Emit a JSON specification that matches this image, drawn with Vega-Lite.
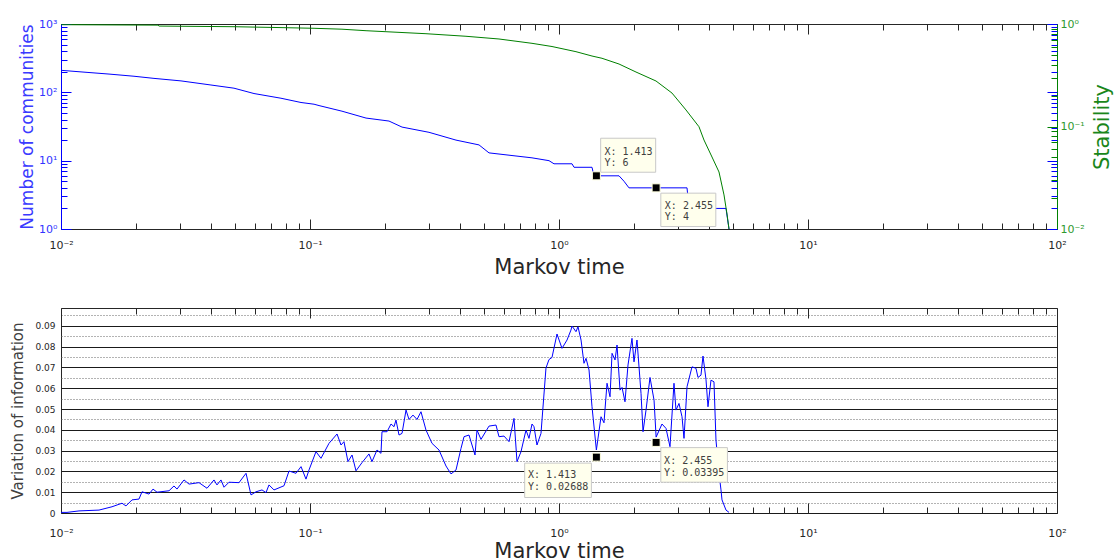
{
  "$schema": "https://vega.github.io/schema/vega-lite/v6.json",
  "padding": {"left": 10, "top": 17, "right": 5, "bottom": 0},
  "background": "white",
  "bounds": "flush",
  "spacing": 79,
  "resolve": {"scale": {"shape": "independent"}},
  "datasets": {
    "comm": [
      {"t":0.01,"n":210},{"t":0.01272,"n":196},{"t":0.01559,"n":185},{"t":0.01964,"n":172},{"t":0.02363,"n":160},{"t":0.03033,"n":147},{"t":0.04002,"n":128},{"t":0.04951,"n":115},{"t":0.05958,"n":96},{"t":0.07645,"n":82},{"t":0.09202,"n":71},{"t":0.1038,"n":67},{"t":0.1087,"n":64},{"t":0.1344,"n":53},{"t":0.1679,"n":42},{"t":0.2076,"n":38},{"t":0.2342,"n":31},{"t":0.3005,"n":26},{"t":0.3858,"n":20},{"t":0.4773,"n":17},{"t":0.5235,"n":13},{"t":0.779,"n":11},{"t":0.9118,"n":10},{"t":0.9548,"n":9},{"t":1.128,"n":9},{"t":1.149,"n":8},{"t":1.357,"n":8},{"t":1.382,"n":6},{"t":1.742,"n":6},{"t":1.824,"n":5},{"t":1.91,"n":4},{"t":3.267,"n":4},{"t":3.327,"n":2},{"t":4.685,"n":2},{"t":4.817,"n":1}
    ],
    "stab": [
      {"t":0.01,"s":0.985},{"t":0.02452,"s":0.975},{"t":0.02475,"s":0.955},{"t":0.04951,"s":0.941},{"t":0.07371,"s":0.924},{"t":0.1038,"s":0.908},{"t":0.1344,"s":0.89},{"t":0.1679,"s":0.86},{"t":0.2019,"s":0.841},{"t":0.2923,"s":0.804},{"t":0.4231,"s":0.759},{"t":0.5741,"s":0.714},{"t":0.779,"s":0.648},{"t":0.9374,"s":0.603},{"t":1.17,"s":0.537},{"t":1.357,"s":0.487},{"t":1.488,"s":0.463},{"t":1.742,"s":0.407},{"t":2.038,"s":0.34},{"t":2.452,"s":0.278},{"t":2.843,"s":0.212},{"t":3.236,"s":0.145},{"t":3.649,"s":0.0995},{"t":3.822,"s":0.0738},{"t":4.116,"s":0.0504},{"t":4.391,"s":0.036},{"t":4.599,"s":0.0215},{"t":4.728,"s":0.014},{"t":4.817,"s":0.01}
    ],
    "vi": [
      {"t":0.01,"v":0.0003},{"t":0.01057,"v":0.0003},{"t":0.01181,"v":0.001},{"t":0.01421,"v":0.0014},{"t":0.01603,"v":0.003},{"t":0.01758,"v":0.0047},{"t":0.01824,"v":0.0034},{"t":0.01928,"v":0.0063},{"t":0.02057,"v":0.0067},{"t":0.02115,"v":0.0102},{"t":0.02257,"v":0.0091},{"t":0.02342,"v":0.0115},{"t":0.0243,"v":0.01},{"t":0.02715,"v":0.0107},{"t":0.02843,"v":0.013},{"t":0.02923,"v":0.0115},{"t":0.03119,"v":0.0159},{"t":0.03267,"v":0.0139},{"t":0.03583,"v":0.0146},{"t":0.03858,"v":0.0119},{"t":0.04116,"v":0.0159},{"t":0.04231,"v":0.0135},{"t":0.04391,"v":0.0159},{"t":0.04515,"v":0.0124},{"t":0.04728,"v":0.0148},{"t":0.05187,"v":0.0146},{"t":0.05534,"v":0.0191},{"t":0.05795,"v":0.0087},{"t":0.06069,"v":0.0102},{"t":0.06416,"v":0.0111},{"t":0.06657,"v":0.0098},{"t":0.06844,"v":0.0135},{"t":0.07168,"v":0.0111},{"t":0.07864,"v":0.0131},{"t":0.08236,"v":0.0202},{"t":0.08786,"v":0.0191},{"t":0.09203,"v":0.0223},{"t":0.09636,"v":0.0163},{"t":0.09908,"v":0.0207},{"t":0.1057,"v":0.0295},{"t":0.1107,"v":0.0263},{"t":0.1192,"v":0.0335},{"t":0.1284,"v":0.038},{"t":0.1332,"v":0.0327},{"t":0.1369,"v":0.0343},{"t":0.1421,"v":0.0247},{"t":0.1475,"v":0.0279},{"t":0.153,"v":0.0203},{"t":0.1617,"v":0.0242},{"t":0.1725,"v":0.0284},{"t":0.1774,"v":0.0247},{"t":0.1858,"v":0.0303},{"t":0.1928,"v":0.0287},{"t":0.1946,"v":0.0391},{"t":0.2039,"v":0.0391},{"t":0.2115,"v":0.0428},{"t":0.2175,"v":0.0415},{"t":0.2215,"v":0.0447},{"t":0.2278,"v":0.0375},{"t":0.2342,"v":0.0383},{"t":0.243,"v":0.0495},{"t":0.2498,"v":0.045},{"t":0.2592,"v":0.0471},{"t":0.269,"v":0.045},{"t":0.2791,"v":0.0487},{"t":0.2923,"v":0.0399},{"t":0.309,"v":0.0335},{"t":0.3297,"v":0.0303},{"t":0.3517,"v":0.0226},{"t":0.3684,"v":0.0188},{"t":0.3858,"v":0.0207},{"t":0.4041,"v":0.0311},{"t":0.4155,"v":0.0367},{"t":0.4351,"v":0.0375},{"t":0.46,"v":0.0279},{"t":0.4685,"v":0.0399},{"t":0.4861,"v":0.0354},{"t":0.5235,"v":0.0418},{"t":0.5585,"v":0.0423},{"t":0.5741,"v":0.0367},{"t":0.6014,"v":0.037},{"t":0.6299,"v":0.0343},{"t":0.6596,"v":0.0455},{"t":0.6781,"v":0.0247},{"t":0.7037,"v":0.0295},{"t":0.737,"v":0.0399},{"t":0.7576,"v":0.0359},{"t":0.7792,"v":0.0428},{"t":0.7936,"v":0.0415},{"t":0.8158,"v":0.0327},{"t":0.8466,"v":0.0383},{"t":0.8866,"v":0.0697},{"t":0.9116,"v":0.0738},{"t":0.9372,"v":0.0748},{"t":0.9818,"v":0.0861},{"t":1.028,"v":0.0792},{"t":1.077,"v":0.0832},{"t":1.117,"v":0.088},{"t":1.128,"v":0.0899},{"t":1.17,"v":0.0872},{"t":1.192,"v":0.0896},{"t":1.226,"v":0.0832},{"t":1.26,"v":0.072},{"t":1.284,"v":0.0744},{"t":1.32,"v":0.0688},{"t":1.357,"v":0.0511},{"t":1.413,"v":0.0303},{"t":1.475,"v":0.0463},{"t":1.516,"v":0.0434},{"t":1.559,"v":0.0624},{"t":1.603,"v":0.0559},{"t":1.633,"v":0.0768},{"t":1.679,"v":0.0736},{"t":1.71,"v":0.0808},{"t":1.758,"v":0.0591},{"t":1.791,"v":0.0604},{"t":1.841,"v":0.0535},{"t":1.893,"v":0.0712},{"t":1.964,"v":0.084},{"t":2.001,"v":0.0727},{"t":2.057,"v":0.0832},{"t":2.135,"v":0.0575},{"t":2.175,"v":0.0391},{"t":2.236,"v":0.0495},{"t":2.32,"v":0.0652},{"t":2.408,"v":0.0543},{"t":2.455,"v":0.0365},{"t":2.592,"v":0.0428},{"t":2.69,"v":0.0407},{"t":2.791,"v":0.0319},{"t":2.896,"v":0.0624},{"t":2.95,"v":0.0495},{"t":3.033,"v":0.0527},{"t":3.119,"v":0.0463},{"t":3.177,"v":0.0359},{"t":3.267,"v":0.0607},{"t":3.421,"v":0.0703},{"t":3.549,"v":0.0696},{"t":3.616,"v":0.0652},{"t":3.717,"v":0.0663},{"t":3.787,"v":0.0755},{"t":3.893,"v":0.0643},{"t":3.966,"v":0.0511},{"t":4.077,"v":0.0639},{"t":4.192,"v":0.0631},{"t":4.27,"v":0.0351},{"t":4.391,"v":0.0191},{"t":4.473,"v":0.0111},{"t":4.515,"v":0.0063},{"t":4.685,"v":0.0014},{"t":4.817,"v":0.0003}
    ],
    "tipsTop": [
      {"tip":"a","t":1.413,"y":6,"label":["X: 1.413","Y: 6"]},
      {"tip":"b","t":2.455,"y":4,"label":["X: 2.455","Y: 4"]}
    ],
    "tipsBot": [
      {"tip":"a","t":1.413,"y":0.02688,"label":["X: 1.413","Y: 0.02688"]},
      {"tip":"b","t":2.455,"y":0.03395,"label":["X: 2.455","Y: 0.03395"]}
    ]
  },
  "vconcat": [
    {
      "width": 996,
      "height": 205,
      "resolve": {"scale": {"y": "independent"}, "axis": {"x": "independent", "y": "independent"}},
      "layer": [
        {
          "data": {"name": "comm"},
          "mark": {"type": "line", "color": "#0000ff", "strokeWidth": 1},
          "encoding": {
            "x": {"field": "t", "type": "quantitative", "scale": {"type": "log", "domain": [0.01, 100], "nice": false},
              "axis": {"orient": "bottom", "values": [0.01,0.02,0.03,0.04,0.05,0.06,0.07,0.08,0.09,0.1,0.2,0.3,0.4,0.5,0.6,0.7,0.8,0.9,1,2,3,4,5,6,7,8,9,10,20,30,40,50,60,70,80,90,100],
                "labelExpr": "datum.value === 0.01 ? '10⁻²' : datum.value === 0.1 ? '10⁻¹' : datum.value === 1 ? '10⁰' : datum.value === 10 ? '10¹' : datum.value === 100 ? '10²' : ''",
                "tickSize": {"condition": {"test": "indexof([0.01,0.1,1,10,100], datum.value) >= 0", "value": -10}, "value": -6},
                "tickColor": "#262626", "domain": false, "grid": false, "labelPadding": 20, "labelFontSize": 11, "labelColor": "#262626", "labelFlush": false, "labelOverlap": false,
                "title": "Markov time", "titleFontSize": 21, "titleFontWeight": "normal", "titleColor": "#262626", "titlePadding": 2}},
            "y": {"field": "n", "type": "quantitative", "scale": {"type": "log", "domain": [1, 1000], "nice": false},
              "axis": {"orient": "left", "values": [1,2,3,4,5,6,7,8,9,10,20,30,40,50,60,70,80,90,100,200,300,400,500,600,700,800,900,1000],
                "labelExpr": "datum.value === 1 ? '10⁰' : datum.value === 10 ? '10¹' : datum.value === 100 ? '10²' : datum.value === 1000 ? '10³' : ''",
                "tickSize": {"condition": {"test": "indexof([1,10,100,1000], datum.value) >= 0", "value": -10}, "value": -6},
                "tickColor": "#0000ff", "domainColor": "#0000ff", "grid": false, "labelPadding": 14, "labelFontSize": 11, "labelColor": "#3333ff", "labelOverlap": false, "labelFlush": false,
                "title": "Number of communities", "titleFontSize": 17, "titleFontWeight": "normal", "titleColor": "#3a3aff", "titlePadding": 2}}
          }
        },
        {
          "data": {"name": "stab"},
          "mark": {"type": "line", "color": "#008000", "strokeWidth": 1},
          "encoding": {
            "x": {"field": "t", "type": "quantitative", "scale": {"type": "log", "domain": [0.01, 100], "nice": false}, "axis": null},
            "y": {"field": "s", "type": "quantitative", "scale": {"type": "log", "domain": [0.01, 1], "nice": false},
              "axis": {"orient": "right", "values": [0.01,0.02,0.03,0.04,0.05,0.06,0.07,0.08,0.09,0.1,0.2,0.3,0.4,0.5,0.6,0.7,0.8,0.9,1],
                "labelExpr": "datum.value === 0.01 ? '10⁻²' : datum.value === 0.1 ? '10⁻¹' : datum.value === 1 ? '10⁰' : ''",
                "tickSize": {"condition": {"test": "indexof([0.01,0.1,1], datum.value) >= 0", "value": -10}, "value": -6},
                "tickColor": "#008000", "domainColor": "#008000", "grid": false, "labelPadding": 13, "labelFontSize": 11, "labelColor": "#2e9a2e", "labelOverlap": false, "labelFlush": false,
                "title": "Stability", "titleAngle": 270, "titleBaseline": "top", "titleFontSize": 21, "titleFontWeight": "normal", "titleColor": "#1a861a", "titlePadding": 7}}
          }
        },
        {
          "data": {"name": "comm"},
          "mark": {"type": "line", "opacity": 0},
          "encoding": {
            "x": {"field": "t", "type": "quantitative", "scale": {"type": "log", "domain": [0.01, 100], "nice": false},
              "axis": {"orient": "top", "values": [0.01,0.02,0.03,0.04,0.05,0.06,0.07,0.08,0.09,0.1,0.2,0.3,0.4,0.5,0.6,0.7,0.8,0.9,1,2,3,4,5,6,7,8,9,10,20,30,40,50,60,70,80,90,100],
                "labels": false, "title": null, "domain": false, "grid": false, "tickColor": "#262626",
                "tickSize": {"condition": {"test": "indexof([0.01,0.1,1,10,100], datum.value) >= 0", "value": -10}, "value": -6}}},
            "y": {"field": "n", "type": "quantitative", "scale": {"type": "log", "domain": [1, 1000], "nice": false},
              "axis": {"orient": "right", "values": [1,2,3,4,5,6,7,8,9,10,20,30,40,50,60,70,80,90,100,200,300,400,500,600,700,800,900,1000],
                "labels": false, "title": null, "domain": false, "grid": false, "tickColor": "#0000ff",
                "tickSize": {"condition": {"test": "indexof([1,10,100,1000], datum.value) >= 0", "value": -10}, "value": -6}}}
          }
        },
        {
          "data": {"name": "tipsTop"},
          "mark": {"type": "point", "filled": true, "size": 10000, "fill": "#ffffed", "stroke": "#c8c8c8", "strokeWidth": 1, "opacity": 1},
          "encoding": {
            "x": {"field": "t", "type": "quantitative", "scale": {"type": "log", "domain": [0.01, 100], "nice": false}, "axis": null},
            "y": {"field": "y", "type": "quantitative", "scale": {"type": "log", "domain": [1, 1000], "nice": false}, "axis": null},
            "shape": {"field": "tip", "type": "nominal", "legend": null,
              "scale": {"domain": ["a", "b"], "range": ["M0.086,-0.752H1.186V-0.072H0.086Z", "M0.094,0.106H1.194V0.774H0.094Z"]}}
          }
        },
        {
          "data": {"name": "tipsTop"},
          "transform": [{"filter": "datum.tip === 'a'"}],
          "mark": {"type": "text", "align": "left", "baseline": "alphabetic", "dx": 8, "dy": -21, "font": "DejaVu Sans Mono", "fontSize": 10, "lineHeight": 11.5, "color": "#404040"},
          "encoding": {
            "x": {"field": "t", "type": "quantitative", "scale": {"type": "log", "domain": [0.01, 100], "nice": false}, "axis": null},
            "y": {"field": "y", "type": "quantitative", "scale": {"type": "log", "domain": [1, 1000], "nice": false}, "axis": null},
            "text": {"field": "label"}
          }
        },
        {
          "data": {"name": "tipsTop"},
          "transform": [{"filter": "datum.tip === 'b'"}],
          "mark": {"type": "text", "align": "left", "baseline": "alphabetic", "dx": 8.7, "dy": 20.7, "font": "DejaVu Sans Mono", "fontSize": 10, "lineHeight": 11.5, "color": "#404040"},
          "encoding": {
            "x": {"field": "t", "type": "quantitative", "scale": {"type": "log", "domain": [0.01, 100], "nice": false}, "axis": null},
            "y": {"field": "y", "type": "quantitative", "scale": {"type": "log", "domain": [1, 1000], "nice": false}, "axis": null},
            "text": {"field": "label"}
          }
        },
        {
          "data": {"name": "tipsTop"},
          "mark": {"type": "point", "shape": "square", "filled": true, "size": 64, "fill": "#000000", "stroke": "#ffffe0", "strokeWidth": 1, "opacity": 1},
          "encoding": {
            "x": {"field": "t", "type": "quantitative", "scale": {"type": "log", "domain": [0.01, 100], "nice": false}, "axis": null},
            "y": {"field": "y", "type": "quantitative", "scale": {"type": "log", "domain": [1, 1000], "nice": false}, "axis": null}
          }
        }
      ]
    },
    {
      "width": 996,
      "height": 205,
      "resolve": {"axis": {"x": "independent", "y": "independent"}},
      "layer": [
        {
          "data": {"name": "vi"},
          "mark": {"type": "line", "color": "#0000ff", "strokeWidth": 1},
          "encoding": {
            "x": {"field": "t", "type": "quantitative", "scale": {"type": "log", "domain": [0.01, 100], "nice": false},
              "axis": {"orient": "bottom", "values": [0.01,0.02,0.03,0.04,0.05,0.06,0.07,0.08,0.09,0.1,0.2,0.3,0.4,0.5,0.6,0.7,0.8,0.9,1,2,3,4,5,6,7,8,9,10,20,30,40,50,60,70,80,90,100],
                "labelExpr": "datum.value === 0.01 ? '10⁻²' : datum.value === 0.1 ? '10⁻¹' : datum.value === 1 ? '10⁰' : datum.value === 10 ? '10¹' : datum.value === 100 ? '10²' : ''",
                "tickSize": {"condition": {"test": "indexof([0.01,0.1,1,10,100], datum.value) >= 0", "value": -10}, "value": -6},
                "tickColor": "#262626", "domain": false, "grid": false, "labelPadding": 24, "labelFontSize": 11, "labelColor": "#262626", "labelFlush": false, "labelOverlap": false,
                "title": "Markov time", "titleFontSize": 21, "titleFontWeight": "normal", "titleColor": "#262626", "titlePadding": -2}},
            "y": {"field": "v", "type": "quantitative", "scale": {"domain": [0, 0.0986], "nice": false, "zero": false},
              "axis": {"orient": "left", "values": [0,0.005,0.01,0.015,0.02,0.025,0.03,0.035,0.04,0.045,0.05,0.055,0.06,0.065,0.07,0.075,0.08,0.085,0.09,0.095],
                "labelExpr": "round(datum.value*1000) % 10 == 0 ? (datum.value == 0 ? '0' : format(datum.value, '.2f')) : ''",
                "ticks": false, "domain": false, "grid": true,
                "gridColor": {"condition": {"test": "round(datum.value*1000) % 10 != 0", "value": "#666666"}, "value": "#1a1a1a"},
                "gridDash": {"condition": {"test": "round(datum.value*1000) % 10 != 0", "value": [1, 2]}, "value": []},
                "gridWidth": 1, "gridOpacity": 1,
                "labelPadding": 6, "labelFontSize": 9, "labelColor": "#262626", "labelOverlap": false, "labelFlush": false,
                "title": "Variation of information", "titleFontSize": 15, "titleFontWeight": "normal", "titleColor": "#404040", "titlePadding": 9}}
          }
        },
        {
          "data": {"name": "tipsBot"},
          "mark": {"type": "point", "filled": true, "size": 10000, "fill": "#ffffed", "stroke": "#c8c8c8", "strokeWidth": 1, "opacity": 1},
          "encoding": {
            "x": {"field": "t", "type": "quantitative", "scale": {"type": "log", "domain": [0.01, 100], "nice": false},
              "axis": {"orient": "top", "values": [0.01,0.02,0.03,0.04,0.05,0.06,0.07,0.08,0.09,0.1,0.2,0.3,0.4,0.5,0.6,0.7,0.8,0.9,1,2,3,4,5,6,7,8,9,10,20,30,40,50,60,70,80,90,100],
                "labels": false, "title": null, "domain": false, "grid": false, "tickColor": "#262626",
                "tickSize": {"condition": {"test": "indexof([0.01,0.1,1,10,100], datum.value) >= 0", "value": -10}, "value": -6}}},
            "y": {"field": "y", "type": "quantitative", "scale": {"domain": [0, 0.0986], "nice": false, "zero": false}, "axis": null},
            "shape": {"field": "tip", "type": "nominal", "legend": null,
              "scale": {"domain": ["a", "b"], "range": ["M-1.434,0.12H-0.1V0.808H-1.434Z", "M0.094,0.104H1.426V0.796H0.094Z"]}}
          }
        },
        {
          "data": {"name": "tipsBot"},
          "transform": [{"filter": "datum.tip === 'a'"}],
          "mark": {"type": "text", "align": "left", "baseline": "alphabetic", "dx": -68.4, "dy": 21, "font": "DejaVu Sans Mono", "fontSize": 10, "lineHeight": 12, "color": "#404040"},
          "encoding": {
            "x": {"field": "t", "type": "quantitative", "scale": {"type": "log", "domain": [0.01, 100], "nice": false}, "axis": null},
            "y": {"field": "y", "type": "quantitative", "scale": {"domain": [0, 0.0986], "nice": false, "zero": false}, "axis": null},
            "text": {"field": "label"}
          }
        },
        {
          "data": {"name": "tipsBot"},
          "transform": [{"filter": "datum.tip === 'b'"}],
          "mark": {"type": "text", "align": "left", "baseline": "alphabetic", "dx": 8, "dy": 21.5, "font": "DejaVu Sans Mono", "fontSize": 10, "lineHeight": 12, "color": "#404040"},
          "encoding": {
            "x": {"field": "t", "type": "quantitative", "scale": {"type": "log", "domain": [0.01, 100], "nice": false}, "axis": null},
            "y": {"field": "y", "type": "quantitative", "scale": {"domain": [0, 0.0986], "nice": false, "zero": false}, "axis": null},
            "text": {"field": "label"}
          }
        },
        {
          "data": {"name": "tipsBot"},
          "mark": {"type": "point", "shape": "square", "filled": true, "size": 64, "fill": "#000000", "stroke": "#ffffe0", "strokeWidth": 1, "opacity": 1},
          "encoding": {
            "x": {"field": "t", "type": "quantitative", "scale": {"type": "log", "domain": [0.01, 100], "nice": false}, "axis": null},
            "y": {"field": "y", "type": "quantitative", "scale": {"domain": [0, 0.0986], "nice": false, "zero": false}, "axis": null}
          }
        }
      ]
    }
  ],
  "config": {
    "font": "DejaVu Sans",
    "view": {"stroke": "#262626", "strokeWidth": 1},
    "axis": {"labelFont": "DejaVu Sans", "titleFont": "DejaVu Sans", "tickWidth": 1}
  }
}
